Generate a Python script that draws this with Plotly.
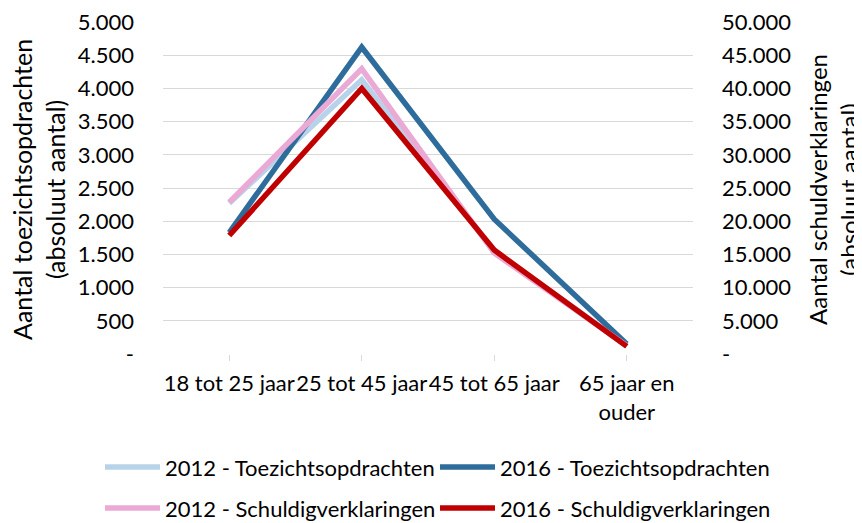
import plotly.graph_objects as go

categories = ["18 tot 25 jaar", "25 tot 45 jaar", "45 tot 65 jaar", "65 jaar en<br>ouder"]
toezicht_2012 = [2270, 4130, 1550, 130]
toezicht_2016 = [1830, 4620, 2030, 150]
schuld_2012 = [22850, 42950, 15200, 1250]
schuld_2016 = [17850, 40000, 15650, 1150]

left_ticks = list(range(0, 5001, 500))
left_text = ["-" if v == 0 else f"{v:,}".replace(",", ".") for v in left_ticks]
right_ticks = list(range(0, 50001, 5000))
right_text = ["-" if v == 0 else f"{v:,}".replace(",", ".") for v in right_ticks]

names = ["2012 - Toezichtsopdrachten", "2016 - Toezichtsopdrachten",
         "2012 - Schuldigverklaringen", "2016 - Schuldigverklaringen"]
colors = ["#B7D3EA", "#2E6C9C", "#EBA9D6", "#C00000"]
series = [toezicht_2012, toezicht_2016, schuld_2012, schuld_2016]
axes = ["y", "y", "y2", "y2"]

FONT = "Lato"
FS = 22
fig = go.Figure()
for n, c, s, a in zip(names, colors, series, axes):
    fig.add_trace(go.Scatter(x=categories, y=s, name=n, mode="lines",
                             line=dict(color=c, width=5.5), yaxis=a,
                             showlegend=False))

OFF = 8  # default page body margin
W, H = 862 - OFF, 523 - OFF
L, T = 163 - OFF, 22 - OFF
R, B = W - (693 - OFF), H - (354 - OFF)
pw, ph = W - L - R, H - T - B

def px2paper(x, y):
    # reference-picture pixel -> paper coordinates
    return (x - OFF - L) / pw, (H - B - (y - OFF)) / ph

# custom legend (two rows, two columns)
entries = [(105, 467), (440, 467), (105, 508), (440, 508)]
for (lx, ly), n, c in zip(entries, names, colors):
    x0, yy = px2paper(lx, ly)
    x1, _ = px2paper(lx + 55, ly)
    fig.add_shape(type="line", xref="paper", yref="paper", x0=x0, x1=x1, y0=yy, y1=yy,
                  line=dict(color=c, width=5.5))
    tx, _ = px2paper(lx + 58, ly)
    fig.add_annotation(x=tx, y=yy, xref="paper", yref="paper", text=n, showarrow=False,
                       xanchor="left", yanchor="middle", font=dict(family=FONT, size=FS, color="#000"))

# axis titles
tx, ty = px2paper(38, 190)
fig.add_annotation(x=tx, y=ty, xref="paper", yref="paper", showarrow=False, textangle=-90,
                   xanchor="center", yanchor="middle",
                   text="Aantal toezichtsopdrachten<br>(absoluut aantal)",
                   font=dict(family=FONT, size=25, color="#000"))
tx, ty = px2paper(833, 190)
fig.add_annotation(x=tx, y=ty, xref="paper", yref="paper", showarrow=False, textangle=-90,
                   xanchor="center", yanchor="middle",
                   text="Aantal schuldverklaringen<br>(absoluut aantal)",
                   font=dict(family=FONT, size=24, color="#000"))

fig.update_layout(
    width=W, height=H,
    margin=dict(l=L, r=R, t=T, b=B, autoexpand=False),
    paper_bgcolor="white", plot_bgcolor="white",
    font=dict(family=FONT, size=FS, color="#000"),
    xaxis=dict(showgrid=False, showline=False, ticks="outside", ticklen=6, tickcolor="#D9D9D9",
               tickangle=0, automargin=False, tickfont=dict(size=FS), range=[-0.5, 3.5],
               zeroline=False, ticklabelstandoff=4),
    yaxis=dict(range=[0, 5000], tickvals=left_ticks, ticktext=left_text, automargin=False,
               showgrid=True, gridcolor="#D9D9D9", gridwidth=1, zeroline=False,
               ticks="", ticklabelstandoff=28, ticklabeloverflow="allow"),
    yaxis2=dict(range=[0, 50000], tickvals=right_ticks, ticktext=right_text, automargin=False,
                overlaying="y", side="right", showgrid=False, zeroline=False,
                ticks="", ticklabelstandoff=28, ticklabeloverflow="allow"),
)
fig.write_html("out.html")
